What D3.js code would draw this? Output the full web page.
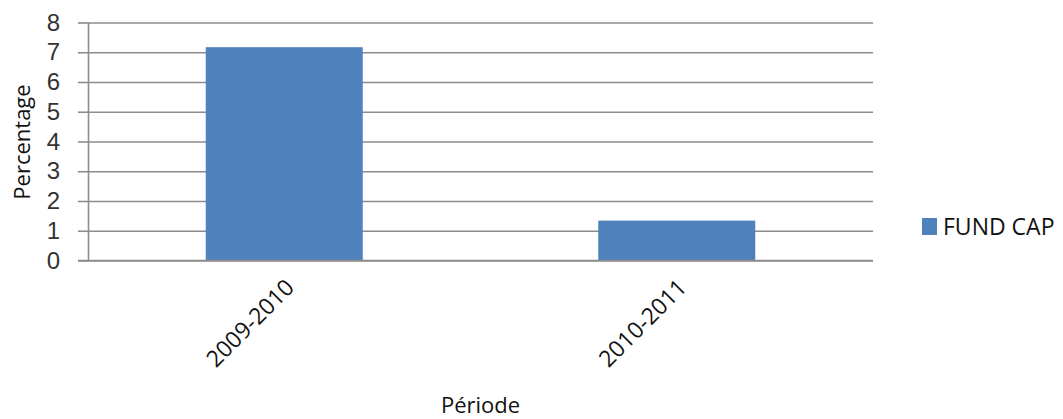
<!DOCTYPE html>
<html>
<head>
<meta charset="utf-8">
<script src="https://cdn.jsdelivr.net/npm/d3@7"></script>
<style>
  html, body { margin: 0; padding: 0; background: #fff; }
  svg { display: block; }
  text { font-family: "Open Sans", "Liberation Sans", sans-serif; fill: #111; }
</style>
</head>
<body>
<svg id="chart" width="1063" height="419"></svg>
<script>
// Chart data
const categories = ["2009-2010", "2010-2011"];
const fundCap = [7.17, 1.34];
const seriesName = "FUND CAP";
const yTicks = [0, 1, 2, 3, 4, 5, 6, 7, 8];
const yTitle = "Percentage";
const xTitle = "Période";

const svg = d3.select("#chart");
const plot = { left: 88, right: 873, top: 22.5, bottom: 260.5 };

const x = d3.scaleBand()
  .domain(categories)
  .range([plot.left, plot.right])
  .paddingInner(0.6)
  .paddingOuter(0.3);

const y = d3.scaleLinear()
  .domain([0, 8])
  .range([plot.bottom, plot.top]);

// Horizontal gridlines
const grid = svg.append("g")
  .attr("transform", `translate(${plot.left},0)`)
  .call(d3.axisLeft(y).tickValues(yTicks).tickSize(-(plot.right - plot.left)).tickFormat(""));
grid.select(".domain").remove();
grid.selectAll("line").attr("stroke", "#8c8c8c").attr("stroke-width", 1.6);

// Bars
svg.append("g").selectAll("rect")
  .data(categories)
  .join("rect")
  .attr("x", d => x(d))
  .attr("width", x.bandwidth())
  .attr("y", (d, i) => y(fundCap[i]))
  .attr("height", (d, i) => y(0) - y(fundCap[i]))
  .attr("fill", "#4f81bd");

// Y axis with outside tick marks
const yAxis = svg.append("g")
  .attr("transform", `translate(${plot.left},0)`)
  .call(d3.axisLeft(y).tickValues(yTicks).tickSize(10).tickSizeOuter(0).tickPadding(18));
yAxis.select(".domain").attr("stroke", "#8c8c8c").attr("stroke-width", 1.6);
yAxis.selectAll("line").attr("stroke", "#8c8c8c").attr("stroke-width", 1.6);
yAxis.selectAll("text")
  .style("font-family", "'Liberation Sans', Arial, sans-serif")
  .style("font-size", "24px")
  .style("fill", "#333");

// X axis baseline
svg.append("line")
  .attr("x1", plot.left - 10).attr("x2", plot.right)
  .attr("y1", y(0)).attr("y2", y(0))
  .attr("stroke", "#8c8c8c").attr("stroke-width", 1.6);

// Rotated category labels
svg.append("g").selectAll("text")
  .data(categories)
  .join("text")
  .attr("transform", d => `translate(${x(d) + x.bandwidth() / 2},${plot.bottom + 17}) rotate(-45)`)
  .attr("text-anchor", "end")
  .attr("dy", "0.7em")
  .attr("font-size", 23)
  .text(d => d);

// Axis titles
svg.append("text")
  .attr("transform", `translate(30,142) rotate(-90)`)
  .attr("text-anchor", "middle")
  .attr("font-size", 22)
  .text(yTitle);

svg.append("text")
  .attr("x", (plot.left + plot.right) / 2).attr("y", 413)
  .attr("text-anchor", "middle")
  .attr("font-size", 22)
  .text(xTitle);

// Legend
const legend = svg.append("g").attr("transform", "translate(922,218)");
legend.append("rect").attr("width", 15).attr("height", 17).attr("fill", "#4f81bd");
legend.append("text")
  .attr("x", 21).attr("y", 16.5)
  .attr("font-size", 23)
  .text(seriesName);
</script>
</body>
</html>
